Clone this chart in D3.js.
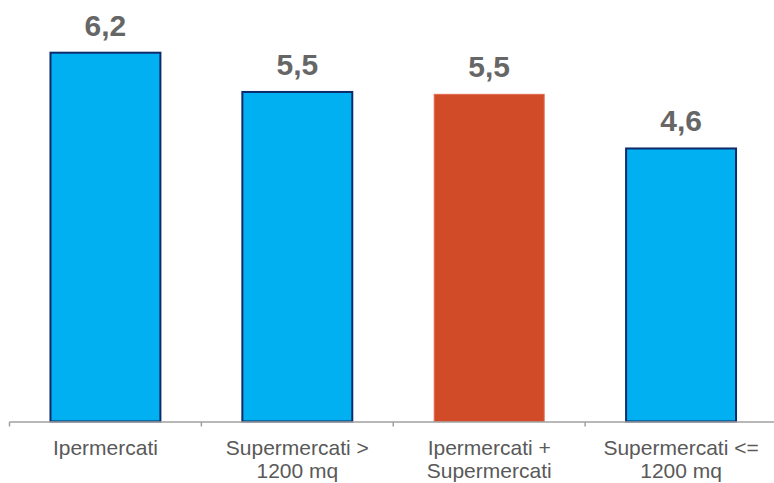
<!DOCTYPE html>
<html>
<head>
<meta charset="utf-8">
<script src="https://cdn.jsdelivr.net/npm/d3@7"></script>
<style>
  html, body { margin: 0; padding: 0; background: #fff; }
  svg { display: block; font-family: "Liberation Sans", Arial, sans-serif; }
</style>
</head>
<body>
<svg id="chart" width="774" height="483"></svg>
<script>
// chart data
var categories = ['Ipermercati', 'Supermercati >|1200 mq', 'Ipermercati +|Supermercati', 'Supermercati <=|1200 mq'];
var values = [6.2, 5.54, 5.5, 4.59];
var valueLabels = ['6,2', '5,5', '5,5', '4,6'];
var highlight = [false, false, true, false];

var width = 774, height = 483;
var margin = {top: 0, right: -3, bottom: 61, left: 9.5};

var svg = d3.select('#chart');

var xScale = d3.scaleBand()
    .domain(categories)
    .range([margin.left, width - margin.right])
    .paddingInner(0.427)
    .paddingOuter(0.2135);

var yScale = d3.scaleLinear()
    .domain([0, 6.2])
    .range([height - margin.bottom - 0.5, 52.7]);

var baseY = yScale(0);

// bars
svg.selectAll('.bar')
    .data(values)
    .enter()
    .append('rect')
    .attr('class', 'bar')
    .attr('x', function(d, i) { return xScale(categories[i]); })
    .attr('width', xScale.bandwidth())
    .attr('y', function(d) { return yScale(d); })
    .attr('height', function(d) { return baseY - yScale(d); })
    .attr('fill', function(d, i) { return highlight[i] ? '#d24b28' : '#00b0f0'; })
    .attr('stroke', function(d, i) { return highlight[i] ? '#e0694a' : '#0d2a6b'; })
    .attr('stroke-width', function(d, i) { return highlight[i] ? 1 : 2; });

// value labels
svg.selectAll('.val')
    .data(values)
    .enter()
    .append('text')
    .attr('class', 'val')
    .attr('x', function(d, i) { return xScale(categories[i]) + xScale.bandwidth() / 2; })
    .attr('y', function(d) { return yScale(d) - 17; })
    .attr('text-anchor', 'middle')
    .attr('font-size', 30)
    .attr('font-weight', 'bold')
    .attr('fill', '#666666')
    .text(function(d, i) { return valueLabels[i]; });

// x axis: line plus ticks at band boundaries
var axis = svg.append('g').attr('class', 'x-axis');
axis.append('line')
    .attr('x1', xScale.range()[0])
    .attr('x2', xScale.range()[1])
    .attr('y1', baseY + 0.5)
    .attr('y2', baseY + 0.5)
    .attr('stroke', '#a0a0a0')
    .attr('stroke-width', 1.5);

var step = xScale.step();
var tickXs = categories.map(function(c, i) { return xScale.range()[0] + i * step; });
tickXs.push(xScale.range()[0] + categories.length * step);

axis.selectAll('.tick')
    .data(tickXs)
    .enter()
    .append('line')
    .attr('class', 'tick')
    .attr('x1', function(d) { return d; })
    .attr('x2', function(d) { return d; })
    .attr('y1', baseY + 0.5)
    .attr('y2', baseY + 5)
    .attr('stroke', '#a0a0a0')
    .attr('stroke-width', 1.5);

// category labels, split on '|'
var labels = axis.selectAll('.cat')
    .data(categories)
    .enter()
    .append('text')
    .attr('class', 'cat')
    .attr('text-anchor', 'middle')
    .attr('font-size', 21)
    .attr('fill', '#595959')
    .attr('transform', function(d) {
        return 'translate(' + (xScale(d) + xScale.bandwidth() / 2) + ',' + (baseY + 33) + ')';
    });

labels.selectAll('tspan')
    .data(function(d) { return d.split('|'); })
    .enter()
    .append('tspan')
    .attr('x', 0)
    .attr('dy', function(d, i) { return i === 0 ? 0 : 23; })
    .text(function(d) { return d; });
</script>
</body>
</html>
